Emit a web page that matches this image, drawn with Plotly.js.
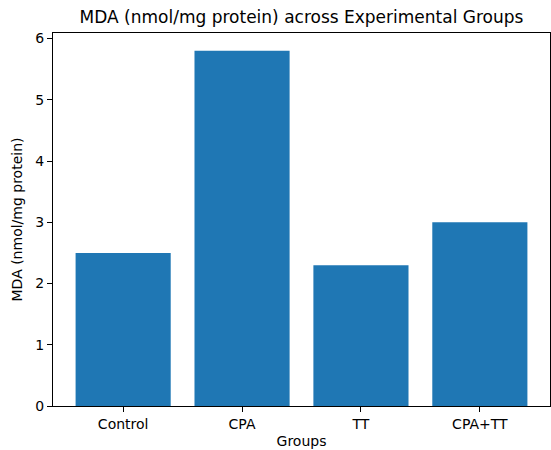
<!DOCTYPE html>
<html><head><meta charset="utf-8">
<script src="https://cdn.plot.ly/plotly-3.0.1.min.js"></script>
<style>html,body{margin:0;padding:0;background:#fff}</style>
</head><body>
<div id="chart" style="width:551px;height:450px"></div>
<script>
const groups = ["Control", "CPA", "TT", "CPA+TT"];
const mdaValues = [2.5, 5.8, 2.3, 3.0];
const yTicks = [0, 1, 2, 3, 4, 5, 6];

const font = {family: "DejaVu Sans", color: "#000", size: 14};
Plotly.newPlot("chart", [{
  type: "bar", x: groups, y: mdaValues,
  marker: {color: "#1f77b4", line: {width: 0}},
  hoverinfo: "x+y"
}], {
  width: 551, height: 450,
  margin: {l: 53, r: 1, t: 33, b: 44},
  paper_bgcolor: "#fff", plot_bgcolor: "#fff",
  font: font,
  bargap: 0.2,
  title: {text: "MDA (nmol/mg protein) across Experimental Groups", font: {family: "DejaVu Sans", size: 17, color: "#000"}, xref: "paper", x: 0.5, xanchor: "center", yref: "container", y: 0.975, yanchor: "top"},
  xaxis: {
    type: "category", range: [-0.59, 3.59],
    showline: true, mirror: true, linecolor: "#000", linewidth: 1,
    ticks: "outside", ticklen: 5, tickcolor: "#000", showgrid: false,
    title: {text: "Groups", font: font, standoff: 5}, tickfont: font
  },
  yaxis: {
    range: [0, 6.09], tickvals: yTicks,
    showline: true, mirror: true, linecolor: "#000", linewidth: 1,
    ticks: "outside", ticklen: 5, tickcolor: "#000", showgrid: false, zeroline: false,
    title: {text: "MDA (nmol/mg protein)", font: font, standoff: 9}, tickfont: font
  },
  showlegend: false
}, {displayModeBar: false});
</script>
</body></html>
